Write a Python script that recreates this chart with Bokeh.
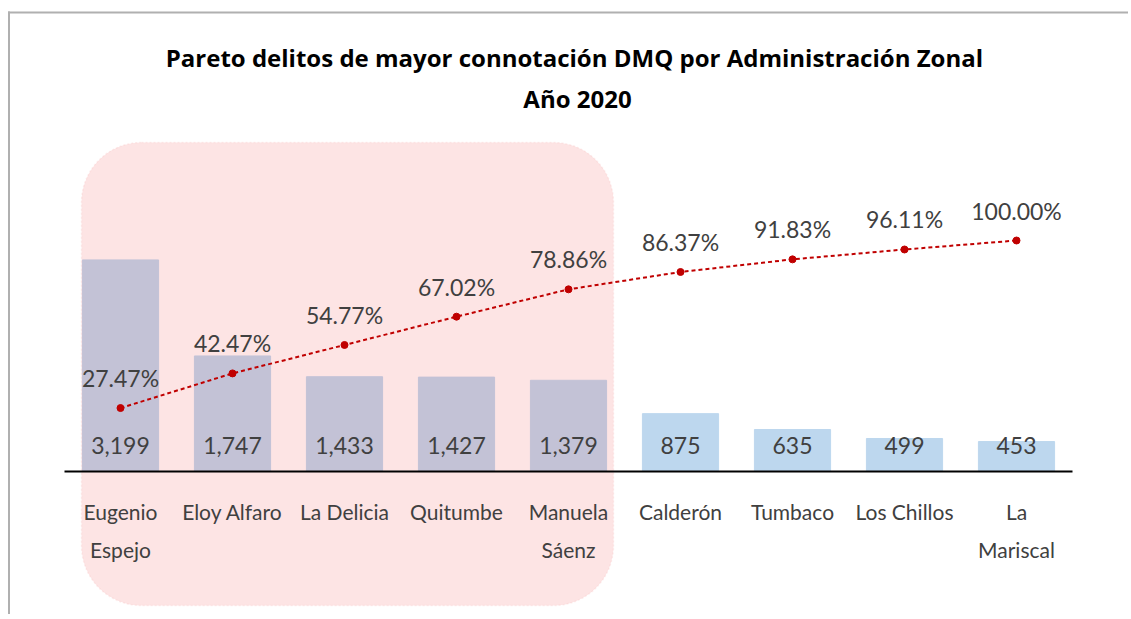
from bokeh.plotting import figure
from bokeh.models import (ColumnDataSource, Range1d, LabelSet, Label,
                          BoxAnnotation, FixedTicker)
from bokeh.embed import file_html
from bokeh.resources import INLINE
from bokeh.core.properties import value

# ---------------- data ----------------
zones = ["Eugenio Espejo", "Eloy Alfaro", "La Delicia", "Quitumbe", "Manuela Sáenz",
         "Calderón", "Tumbaco", "Los Chillos", "La Mariscal"]
tick_labels = ["Eugenio\nEspejo", "Eloy Alfaro", "La Delicia", "Quitumbe", "Manuela\nSáenz",
               "Calderón", "Tumbaco", "Los Chillos", "La\nMariscal"]
counts = [3199, 1747, 1433, 1427, 1379, 875, 635, 499, 453]
cum_pct = [27.47, 42.47, 54.77, 67.02, 78.86, 86.37, 91.83, 96.11, 100.00]
in_pareto = [True, True, True, True, True, False, False, False, False]
title_lines = ["Pareto delitos de mayor connotación  DMQ por Administración Zonal", "Año 2020"]

# ---------------- style ----------------
PURPLE = "#c3c2d6"
BLUE = "#bdd7ee"
RED = "#c00000"
TXT = "#404040"
LABEL_FONT_STR = "Lato"
LABEL_FONT = value(LABEL_FONT_STR)
TITLE_FONT_STR = "Open Sans"

W, H = 1128, 614
X0, STEP = 64.0, 112.0      # pixel of category slot 0 left edge, px per category
Y0, K = 471.0, 0.06614      # baseline pixel row, px per count unit
KP = 2.31                   # px per percent point


def X(px):
    return (px - X0) / STEP


def Y(py):
    return (Y0 - py) / K


xpos = [i + 0.5 for i in range(len(zones))]
colors = [PURPLE if f else BLUE for f in in_pareto]
src = ColumnDataSource(dict(
    x=xpos, zone=zones, count=counts, pct=cum_pct, color=colors,
    count_lbl=[f"{c:,}" for c in counts],
    pct_lbl=[f"{v:.2f}%" for v in cum_pct],
))

p = figure(x_range=Range1d(X(0), X(W)), y_range=Range1d(Y(H), Y(0)),
           width=W, height=H, output_backend="svg", toolbar_location=None,
           min_border_left=0, min_border_right=0, min_border_top=0, min_border_bottom=0)
p.extra_y_ranges = {"pct": Range1d(-(H - Y0) / KP, Y0 / KP)}

p.outline_line_color = None
p.xgrid.visible = False
p.ygrid.visible = False
p.yaxis.visible = False
p.background_fill_color = "white"
p.border_fill_color = "white"

# highlighted pareto region (rounded, behind bars)
p.add_layout(BoxAnnotation(left=X(81), right=X(613), top=Y(142), bottom=Y(605),
                           fill_color="#fde4e4", fill_alpha=1.0,
                           line_color="#f7c6c6", line_dash="2 2", line_width=1.5,
                           border_radius=60, level="underlay"))

# chart-area border (top and left edges visible)
p.add_layout(BoxAnnotation(left=X(7.5), right=X(9.5), top=Y(11), bottom=Y(H + 5),
                           fill_color="#b0b0b0", fill_alpha=1, line_color=None, level="overlay"))
p.add_layout(BoxAnnotation(left=X(7.5), right=X(W + 5), top=Y(11), bottom=Y(13),
                           fill_color="#b0b0b0", fill_alpha=1, line_color=None, level="overlay"))

p.vbar(x="x", top="count", width=0.68, color="color", source=src)

p.line(x="x", y="pct", y_range_name="pct", source=src, line_color=RED,
       line_width=2, line_dash="4 3")
p.scatter(x="x", y="pct", y_range_name="pct", source=src, size=7,
          fill_color=RED, line_color=RED)

p.add_layout(LabelSet(x="x", y=0, text="count_lbl", source=src, y_offset=26,
                      text_align="center", text_baseline="middle",
                      text_font=LABEL_FONT, text_font_size="23px", text_color=TXT))
p.add_layout(LabelSet(x="x", y="pct", y_range_name="pct", text="pct_lbl", source=src,
                      y_offset=30, text_align="center", text_baseline="middle",
                      text_font=LABEL_FONT, text_font_size="23px", text_color=TXT))

# title
p.add_layout(Label(x=X(577), y=Y(57), text=title_lines[0], text_align="center",
                   text_baseline="middle", text_font=TITLE_FONT_STR, text_font_style="bold",
                   text_font_size="24px", text_color="black"))
p.add_layout(Label(x=X(577), y=Y(98), text=title_lines[1], text_align="center",
                   text_baseline="middle", text_font=TITLE_FONT_STR, text_font_style="bold",
                   text_font_size="24px", text_color="black"))

ax = p.xaxis[0]
ax.fixed_location = 0
ax.bounds = (0, len(zones))
ax.ticker = FixedTicker(ticks=xpos)
ax.major_label_overrides = {x: t for x, t in zip(xpos, tick_labels)}
ax.axis_line_color = "black"
ax.axis_line_width = 2
ax.major_tick_line_color = None
ax.minor_tick_line_color = None
ax.major_label_standoff = 21
ax.major_label_text_font = LABEL_FONT_STR
ax.major_label_text_font_size = "21px"
ax.major_label_text_color = TXT
ax.major_label_text_line_height = 1.55
ax.major_label_orientation = "horizontal"

open("out.html", "w").write(file_html(p, INLINE))
